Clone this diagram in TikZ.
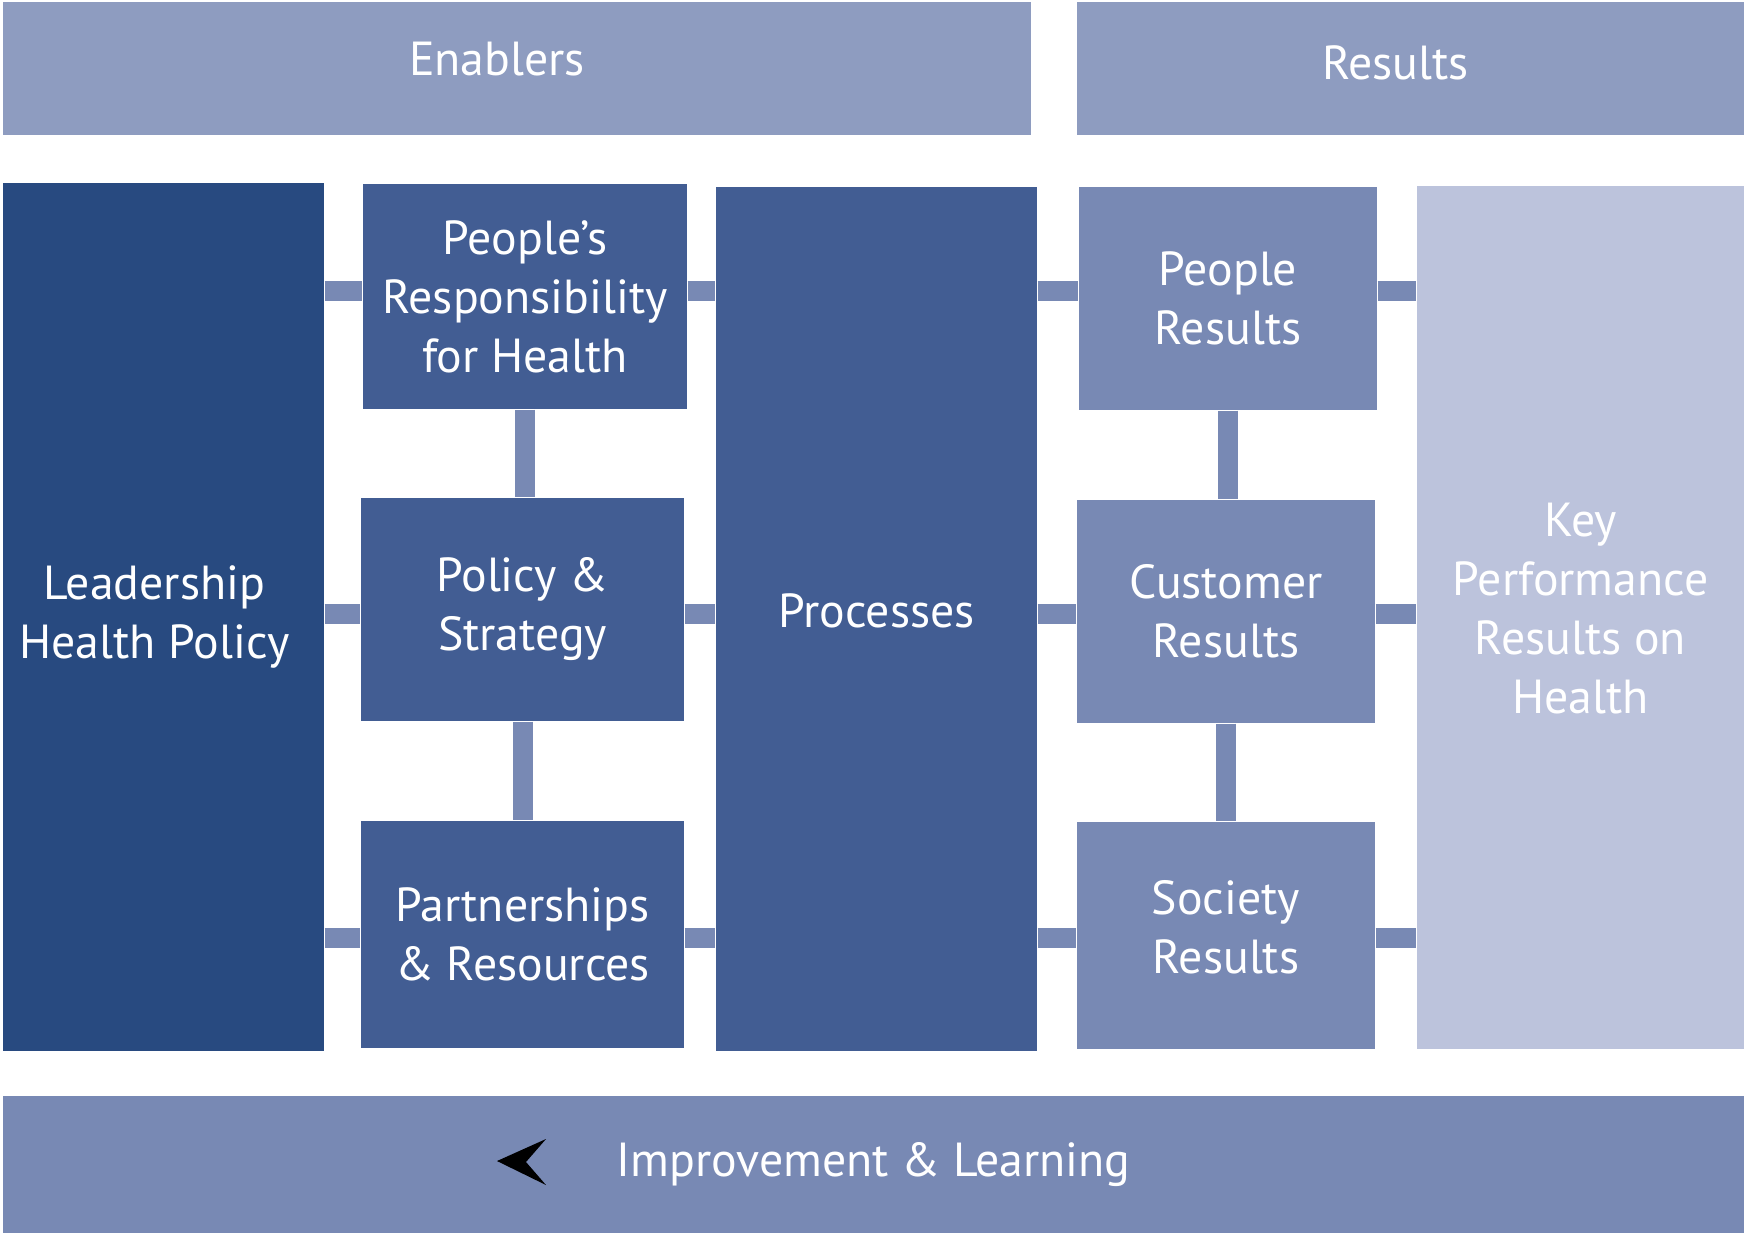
\documentclass[tikz,border=0pt]{standalone}
\usepackage{fontspec}
\setmainfont{PT Sans}
\usetikzlibrary{positioning}

\definecolor{bandblue}{HTML}{8E9CC0}
\definecolor{leadblue}{HTML}{284A80}
\definecolor{enabblue}{HTML}{425D93}
\definecolor{resblue}{HTML}{7889B4}
\definecolor{kprblue}{HTML}{BCC3DC}

\begin{document}
\begin{tikzpicture}[x=0.1mm,y=-0.1mm,
  box/.style={inner sep=0pt,align=center,text=white,font=\fontsize{13.6}{16.8}\selectfont},
  conn/.style={draw=resblue,line width=2mm}]
  \useasboundingbox (0,0) rectangle (1744,1233);
  \node[box,fill=bandblue,minimum width=102.8mm,minimum height=13.3mm] (enab) at (517,68.5) {};
  \node[box,fill=bandblue,minimum width=66.7mm,minimum height=13.3mm] (res) at (1410.5,68.5) {};
  \node[box,fill=leadblue,minimum width=32.1mm,minimum height=86.8mm] (lead) at (163.5,617) {};
  \node[box,fill=enabblue,minimum width=32.4mm,minimum height=22.5mm] (prh) at (525,296.5) {People’s\\Responsibility\\for Health};
  \node[box,fill=enabblue,minimum width=32.3mm,minimum height=22.3mm] (pol) at (522.5,609.5) {Policy \&\\Strategy};
  \node[box,fill=enabblue,minimum width=32.3mm,minimum height=22.7mm] (part) at (522.5,934.5) {Partnerships\\\& Resources};
  \node[box,fill=enabblue,minimum width=32.1mm,minimum height=86.4mm] (proc) at (876.5,619) {};
  \node[box,fill=resblue,minimum width=29.8mm,minimum height=22.3mm] (pres) at (1228,298.5) {People\\Results};
  \node[box,fill=resblue,minimum width=29.8mm,minimum height=22.3mm] (cres) at (1226,611.5) {Customer\\Results};
  \node[box,fill=resblue,minimum width=29.8mm,minimum height=22.7mm] (sres) at (1226,935.5) {};
  \node[box,fill=kprblue,minimum width=32.7mm,minimum height=86.3mm] (kpr) at (1580.5,617.5) {};
  \node[box,fill=resblue,minimum width=174.1mm,minimum height=13.7mm] (impr) at (873.5,1164.5) {Improvement \& Learning};
  \node[box] (enabtxt) at ([xshift=-2mm,yshift=0.9mm]enab.center) {Enablers};
  \node[box] (restxt) at ([xshift=-1.5mm,yshift=0.6mm]res.center) {Results};
  \node[box] (leadtxt) at ([xshift=-0.9mm]lead.center) {Leadership\\Health Policy};
  \node[box] (proctxt) at ([yshift=0.8mm]proc.center) {Processes};
  \node[box] (srestxt) at ([yshift=0.8mm]sres.center) {Society\\Results};
  \node[box] (kprtxt) at ([yshift=0.9mm]kpr.center) {Key\\Performance\\Results on\\Health};
  \coordinate (row1) at (0,291);
  \coordinate (row2) at (0,614);
  \coordinate (row3) at (0,938);
  \draw[conn] (lead.east |- row1) -- (prh.west |- row1);
  \draw[conn] (lead.east |- row2) -- (pol.west |- row2);
  \draw[conn] (lead.east |- row3) -- (part.west |- row3);
  \draw[conn] (prh.east |- row1) -- (proc.west |- row1);
  \draw[conn] (pol.east |- row2) -- (proc.west |- row2);
  \draw[conn] (part.east |- row3) -- (proc.west |- row3);
  \draw[conn] (prh.south) -- (prh.south |- pol.north);
  \draw[conn] (pol.south) -- (pol.south |- part.north);
  \draw[conn] (proc.east |- row1) -- (pres.west |- row1);
  \draw[conn] (proc.east |- row2) -- (cres.west |- row2);
  \draw[conn] (proc.east |- row3) -- (sres.west |- row3);
  \draw[conn] (pres.east |- row1) -- (kpr.west |- row1);
  \draw[conn] (cres.east |- row2) -- (kpr.west |- row2);
  \draw[conn] (sres.east |- row3) -- (kpr.west |- row3);
  \draw[conn] (pres.south) -- (pres.south |- cres.north);
  \draw[conn] (cres.south) -- (cres.south |- sres.north);
  \fill[black] (497,1161) -- (546,1139) -- (526,1162) -- (546,1185) -- cycle;
\end{tikzpicture}
\end{document}
